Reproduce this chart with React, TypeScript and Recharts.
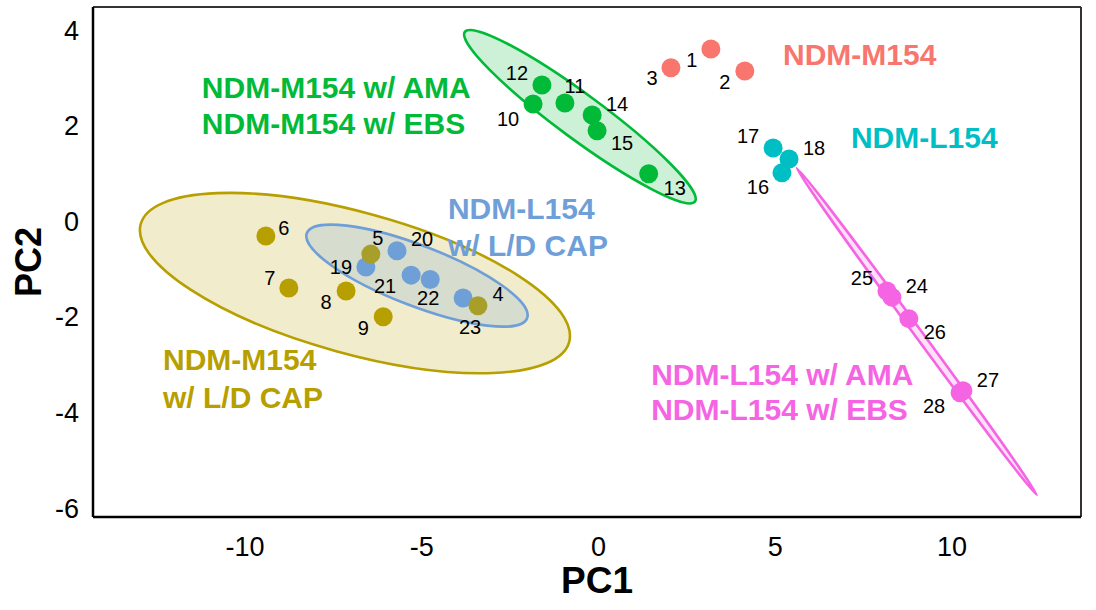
import React from 'react';
import { ScatterChart, Scatter, XAxis, YAxis, ReferenceLine } from 'recharts';

// ---------- axes ----------
const X_DOMAIN: [number, number] = [-14.3, 13.65];
const Y_DOMAIN: [number, number] = [-6.19, 4.48];
const X_TICKS = [-10, -5, 0, 5, 10];
const Y_TICKS = [-6, -4, -2, 0, 2, 4];

// ---------- sample scores (PC1, PC2) ----------
const NDM_M154 = [
  { id: 1, x: 3.18, y: 3.6 },
  { id: 2, x: 4.14, y: 3.14 },
  { id: 3, x: 2.05, y: 3.21 },
];
const NDM_M154_LD_CAP = [
  { id: 4, x: -3.41, y: -1.77 },
  { id: 5, x: -6.44, y: -0.69 },
  { id: 6, x: -9.41, y: -0.31 },
  { id: 7, x: -8.76, y: -1.4 },
  { id: 8, x: -7.14, y: -1.46 },
  { id: 9, x: -6.09, y: -2.0 },
];
const NDM_M154_AMA_EBS = [
  { id: 10, x: -1.85, y: 2.45 },
  { id: 11, x: -0.95, y: 2.47 },
  { id: 12, x: -1.6, y: 2.85 },
  { id: 13, x: 1.42, y: 0.99 },
  { id: 14, x: -0.18, y: 2.22 },
  { id: 15, x: -0.04, y: 1.89 },
];
const NDM_L154 = [
  { id: 16, x: 5.19, y: 1.01 },
  { id: 17, x: 4.94, y: 1.53 },
  { id: 18, x: 5.39, y: 1.3 },
];
const NDM_L154_LD_CAP = [
  { id: 19, x: -6.58, y: -0.96 },
  { id: 20, x: -5.7, y: -0.62 },
  { id: 21, x: -5.3, y: -1.13 },
  { id: 22, x: -4.76, y: -1.22 },
  { id: 23, x: -3.83, y: -1.61 },
];
const NDM_L154_AMA_EBS = [
  { id: 24, x: 8.3, y: -1.59 },
  { id: 25, x: 8.16, y: -1.46 },
  { id: 26, x: 8.78, y: -2.04 },
  { id: 27, x: 10.31, y: -3.55 },
  { id: 28, x: 10.23, y: -3.59 },
];

// ---------- confidence ellipses: major-axis end A, major-axis end B, minor-axis end ----------
const ELLIPSE_M154_LD_CAP = [
  { x: -12.95, y: -0.06 },
  { x: -0.83, y: -2.53 },
  { x: -6.36, y: 0.13 },
];
const ELLIPSE_L154_LD_CAP = [
  { x: -8.25, y: -0.25 },
  { x: -2.02, y: -2.03 },
  { x: -4.83, y: -0.55 },
];
const ELLIPSE_M154_AMA_EBS = [
  { x: -3.78, y: 3.96 },
  { x: 2.73, y: 0.41 },
  { x: -0.15, y: 2.56 },
];
const ELLIPSE_L154_AMA_EBS = [
  { x: 5.61, y: 1.11 },
  { x: 12.4, y: -5.73 },
  { x: 9.09, y: -2.26 },
];

// ---------- group annotations (anchored in data units) ----------
const GROUP_LABELS = [
  { text: 'NDM-M154', x: 5.22, y: 3.48, group: 'red' },
  { text: 'NDM-L154', x: 7.14, y: 1.74, group: 'cyan' },
  { text: 'NDM-M154 w/ AMA', x: -11.22, y: 2.79, group: 'green' },
  { text: 'NDM-M154 w/ EBS', x: -11.22, y: 2.05, group: 'green' },
  { text: 'NDM-L154', x: -4.26, y: 0.26, group: 'blue' },
  { text: 'w/ L/D CAP', x: -4.26, y: -0.5, group: 'blue' },
  { text: 'NDM-M154', x: -12.32, y: -2.9, group: 'olive' },
  { text: 'w/ L/D CAP', x: -12.32, y: -3.68, group: 'olive' },
  { text: 'NDM-L154 w/ AMA', x: 1.49, y: -3.2, group: 'magenta' },
  { text: 'NDM-L154 w/ EBS', x: 1.49, y: -3.94, group: 'magenta' },
];

// ---------- styles ----------
const COLORS: Record<string, string> = {
  red: '#F8766D',
  olive: '#B79F00',
  green: '#00BA38',
  cyan: '#00BFC4',
  blue: '#6F9FD8',
  magenta: '#F564E3',
};
const FONT = '"Liberation Sans", Arial, Helvetica, sans-serif';
const POINT_R = 9.5;

// label offsets in pixels relative to each point
const LABEL_OFFSETS: Record<number, [number, number]> = {
  1: [-19, 11], 2: [-20, 11], 3: [-19, 10], 4: [20, -12], 5: [7, -16],
  6: [18, -8], 7: [-19, -10], 8: [-20, 11], 9: [-20, 11], 10: [-25, 15],
  11: [10, -17], 12: [-25, -12], 13: [26, 14], 14: [25, -11], 15: [25, 12],
  16: [-24, 14], 17: [-25, -12], 18: [25, -11], 19: [-25, 0], 20: [25, -12],
  21: [-26, 11], 22: [-2, 19], 23: [7, 29], 24: [25, -11], 25: [-25, -13],
  26: [26, 13], 27: [25, -11], 28: [-26, 13],
};

const ALL_POINTS = [
  ...NDM_M154,
  ...NDM_M154_LD_CAP,
  ...NDM_M154_AMA_EBS,
  ...NDM_L154,
  ...NDM_L154_LD_CAP,
  ...NDM_L154_AMA_EBS,
];

const emptyShape = () => <g />;

function ellipseLine(color: string, mode: 'both' | 'fill' | 'stroke') {
  return (props: any) => {
    const pts = props.points;
    if (!pts || pts.length < 3) return <g />;
    const [p0, p1, p2] = pts;
    const cx = (p0.x + p1.x) / 2;
    const cy = (p0.y + p1.y) / 2;
    const dx = p1.x - p0.x;
    const dy = p1.y - p0.y;
    const len = Math.hypot(dx, dy);
    const rx = len / 2;
    const ry = Math.abs((p2.x - cx) * -dy + (p2.y - cy) * dx) / len;
    const ang = (Math.atan2(dy, dx) * 180) / Math.PI;
    return (
      <ellipse
        cx={cx}
        cy={cy}
        rx={rx}
        ry={ry}
        transform={`rotate(${ang} ${cx} ${cy})`}
        fill={mode === 'stroke' ? 'none' : color}
        fillOpacity={0.2}
        stroke={mode === 'fill' ? 'none' : color}
        strokeWidth={2.6}
      />
    );
  };
}

const dotShape = (color: string) => (props: any) =>
  <circle cx={props.cx} cy={props.cy} r={POINT_R} fill={color} />;

const numberShape = (props: any) => {
  const id = props.payload.id;
  const [dx, dy] = LABEL_OFFSETS[id] || [15, -10];
  return (
    <text
      x={props.cx + dx}
      y={props.cy + dy}
      textAnchor="middle"
      dominantBaseline="central"
      fontSize={20}
      fontFamily={FONT}
      fill="#000"
    >
      {id}
    </text>
  );
};

const groupLabelShape = (props: any) => (
  <text
    x={props.cx}
    y={props.cy}
    textAnchor="start"
    dominantBaseline="central"
    fontSize={30}
    fontWeight="bold"
    fontFamily={FONT}
    fill={COLORS[props.payload.group]}
  >
    {props.payload.text}
  </text>
);

export default function App() {
  return (
    <div style={{ position: 'absolute', left: 0, top: 0, background: '#fff' }}>
      <ScatterChart
        width={1096}
        height={610}
        margin={{ top: 7, right: 15, bottom: 0, left: 0 }}
      >
        <XAxis
          type="number"
          dataKey="x"
          domain={X_DOMAIN}
          ticks={X_TICKS}
          allowDataOverflow
          height={93}
          tickLine={false}
          tickSize={0}
          tickMargin={20}
          axisLine={{ stroke: '#000', strokeWidth: 2.5 }}
          tick={{ fontSize: 27, fill: '#000', fontFamily: FONT }}
          label={{
            value: 'PC1',
            position: 'insideBottom',
            offset: 17,
            dx: 10,
            fill: '#000',
            fontSize: 37,
            fontWeight: 'bold',
            fontFamily: FONT,
          }}
        />
        <YAxis
          type="number"
          dataKey="y"
          domain={Y_DOMAIN}
          ticks={Y_TICKS}
          allowDataOverflow
          width={93}
          tickLine={false}
          tickSize={0}
          tickMargin={14}
          axisLine={{ stroke: '#000', strokeWidth: 2.5 }}
          tick={{ fontSize: 27, fill: '#000', fontFamily: FONT }}
          label={{
            value: 'PC2',
            angle: -90,
            position: 'insideLeft',
            offset: 28,
            fill: '#000',
            fontSize: 36,
            fontWeight: 'bold',
            fontFamily: FONT,
            style: { textAnchor: 'middle' },
          }}
        />
        <ReferenceLine y={Y_DOMAIN[1]} stroke="#333" strokeWidth={2} />
        <ReferenceLine x={X_DOMAIN[1]} stroke="#333" strokeWidth={2} />

        <Scatter data={ELLIPSE_M154_LD_CAP} shape={emptyShape} line={ellipseLine(COLORS.olive, 'both')} isAnimationActive={false} />
        <Scatter data={ELLIPSE_M154_AMA_EBS} shape={emptyShape} line={ellipseLine(COLORS.green, 'both')} isAnimationActive={false} />
        <Scatter data={ELLIPSE_L154_AMA_EBS} shape={emptyShape} line={ellipseLine(COLORS.magenta, 'both')} isAnimationActive={false} />
        <Scatter data={ELLIPSE_L154_LD_CAP} shape={emptyShape} line={ellipseLine(COLORS.blue, 'stroke')} isAnimationActive={false} />

        <Scatter data={NDM_M154} shape={dotShape(COLORS.red)} isAnimationActive={false} />
        <Scatter data={NDM_M154_AMA_EBS} shape={dotShape(COLORS.green)} isAnimationActive={false} />
        <Scatter data={NDM_L154} shape={dotShape(COLORS.cyan)} isAnimationActive={false} />
        <Scatter data={NDM_L154_AMA_EBS} shape={dotShape(COLORS.magenta)} isAnimationActive={false} />
        <Scatter data={NDM_L154_LD_CAP} shape={dotShape(COLORS.blue)} isAnimationActive={false} />
        <Scatter data={NDM_M154_LD_CAP} shape={dotShape(COLORS.olive)} isAnimationActive={false} />

        <Scatter data={ELLIPSE_L154_LD_CAP} shape={emptyShape} line={ellipseLine(COLORS.blue, 'fill')} isAnimationActive={false} />

        <Scatter data={ALL_POINTS} shape={numberShape} isAnimationActive={false} />
        <Scatter data={GROUP_LABELS} shape={groupLabelShape} isAnimationActive={false} />
      </ScatterChart>
    </div>
  );
}
